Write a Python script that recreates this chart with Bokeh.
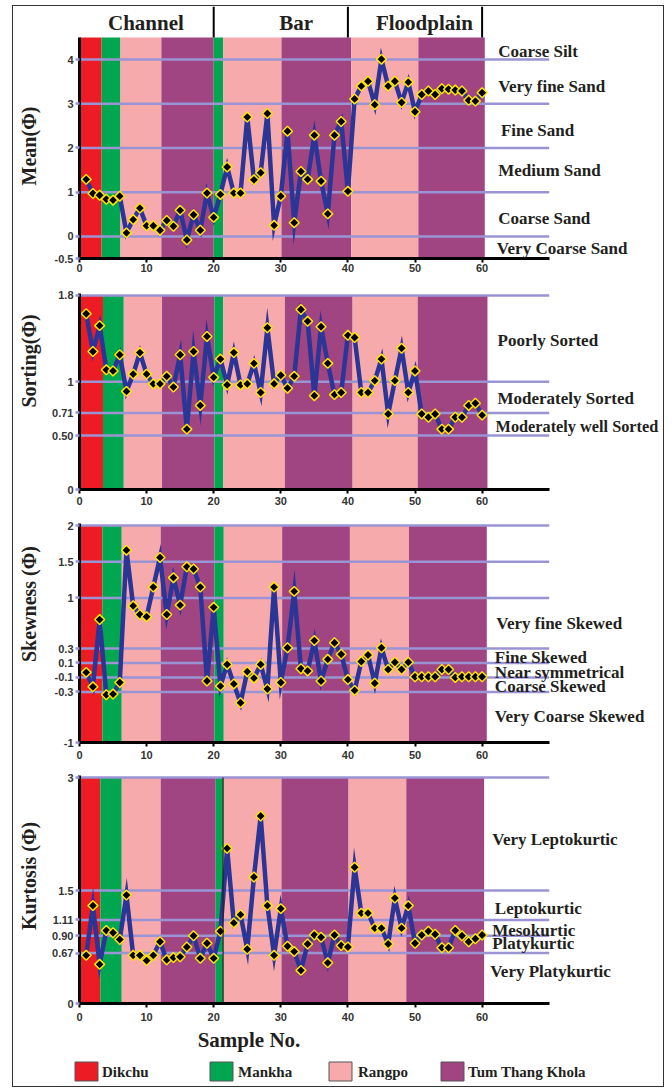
import math
from bokeh.plotting import figure
from bokeh.models import Range1d, Label, FixedTicker
from bokeh.layouts import column, row
from bokeh.embed import file_html
from bokeh.resources import INLINE
from bokeh.core.properties import value

# ---------------- data ----------------
samples = list(range(1, 61))

mean_phi = [1.29, 0.97, 0.93, 0.84, 0.82, 0.91, 0.08, 0.38, 0.64, 0.24,
            0.24, 0.14, 0.36, 0.23, 0.59, -0.08, 0.49, 0.14, 0.98, 0.43,
            0.95, 1.57, 0.98, 0.98, 2.70, 1.28, 1.44, 2.78, 0.25, 0.91,
            2.38, 0.31, 1.47, 1.29, 2.29, 1.25, 0.51, 2.29, 2.60, 1.02,
            3.11, 3.40, 3.51, 2.98, 4.01, 3.40, 3.51, 3.03, 3.49, 2.82,
            3.21, 3.29, 3.21, 3.34, 3.33, 3.31, 3.29, 3.08, 3.06, 3.25]

sorting_phi = [1.63, 1.28, 1.52, 1.11, 1.10, 1.25, 0.91, 1.07, 1.27, 1.07,
               0.98, 0.98, 1.05, 0.95, 1.25, 0.56, 1.28, 0.78, 1.42, 1.04,
               1.21, 0.97, 1.27, 0.97, 0.98, 1.17, 0.90, 1.50, 0.98, 1.06,
               0.94, 1.05, 1.67, 1.56, 0.87, 1.51, 1.17, 0.88, 0.90, 1.43,
               1.41, 0.90, 0.90, 1.01, 1.21, 0.70, 1.01, 1.31, 0.90, 1.10,
               0.70, 0.67, 0.70, 0.56, 0.56, 0.67, 0.67, 0.78, 0.80, 0.69]

skewness_phi = [-0.03, -0.23, 0.70, -0.34, -0.33, -0.17, 1.66, 0.89, 0.77, 0.74,
                1.15, 1.56, 0.77, 1.28, 0.90, 1.43, 1.40, 1.15, -0.15, 0.87,
                -0.22, 0.08, -0.19, -0.45, -0.02, -0.11, 0.08, -0.26, 1.15, -0.17,
                0.31, 1.09, 0.02, -0.01, 0.41, -0.15, 0.15, 0.38, 0.22, -0.13,
                -0.28, 0.12, 0.21, -0.18, 0.31, 0.01, 0.11, 0.01, 0.11, -0.09,
                -0.09, -0.09, -0.09, 0.01, 0.01, -0.10, -0.09, -0.09, -0.09, -0.09]

kurtosis_phi = [0.64, 1.30, 0.52, 0.97, 0.94, 0.85, 1.44, 0.64, 0.64, 0.57,
                0.64, 0.82, 0.58, 0.61, 0.62, 0.75, 0.90, 0.60, 0.80, 0.60,
                0.96, 2.06, 1.07, 1.18, 0.72, 1.68, 2.49, 1.30, 0.64, 1.26,
                0.76, 0.69, 0.44, 0.79, 0.91, 0.88, 0.54, 0.91, 0.77, 0.75,
                1.81, 1.20, 1.20, 1.00, 1.00, 0.79, 1.40, 1.00, 1.30, 0.80,
                0.91, 0.96, 0.92, 0.74, 0.74, 0.97, 0.90, 0.82, 0.86, 0.91]

rivers = ["Dikchu", "Mankha", "Rangpo", "Tum Thang Khola"]
river_colors = ["#ED1C24", "#00A650", "#F7AAAC", "#A04482"]

# river of each background band (left to right) and band edges per panel
band_river = [0, 1, 2, 3, 1, 2, 3, 2, 3]
mean_band_edges = [0, 3.3, 6.1, 12.2, 20.0, 21.4, 30.1, 40.5, 50.5, 60.4]
sorting_band_edges = [0, 3.5, 6.6, 12.3, 20.1, 21.4, 30.6, 40.7, 50.4, 60.8]
skew_band_edges = [0, 3.4, 6.3, 12.1, 20.1, 21.5, 30.2, 40.3, 49.1, 60.7]
kurt_band_edges = [0, 3.1, 6.3, 12.1, 20.3, 21.4, 30.1, 40.1, 48.7, 60.3]

environments = ["Channel", "Bar", "Floodplain"]
environment_x = [9.9, 32.3, 51.4]
environment_bounds = [20, 40, 60]

# class boundary lines, tick labels, class names
mean_levels = [4, 3, 2, 1, 0]
mean_ticks = [-0.5, 0, 1, 2, 3, 4]
mean_tick_labels = ["-0.5", "0", "1", "2", "3", "4"]
mean_classes = ["Coarse Silt", "Very fine Sand", "Fine Sand", "Medium Sand",
                "Coarse Sand", "Very Coarse Sand"]
mean_class_y = [4.19, 3.38, 2.40, 1.48, 0.41, -0.28]
mean_class_x = [62.4, 62.4, 62.8, 62.4, 62.4, 62.2]

sorting_levels = [1.8, 1, 0.71, 0.50]
sorting_ticks = [0, 0.50, 0.71, 1, 1.8]
sorting_tick_labels = ["0", "0.50", "0.71", "1", "1.8"]
sorting_classes = ["Poorly Sorted", "Moderately Sorted", "Moderately well Sorted"]
sorting_class_y = [1.38, 0.84, 0.58]
sorting_class_x = [62.3, 62.3, 62.0]
sorting_class_size = ["17px", "17px", "16.3px"]

skew_levels = [2, 1.5, 1, 0.3, 0.1, -0.1, -0.3]
skew_ticks = [-1, -0.3, -0.1, 0.1, 0.3, 1, 1.5, 2]
skew_tick_labels = ["-1", "-0.3", "-0.1", "0.1", "0.3", "1", "1.5", "2"]
skew_classes = ["Very fine Skewed", "Fine Skewed", "Near symmetrical",
                "Coarse Skewed", "Very Coarse Skewed"]
skew_class_y = [0.65, 0.18, -0.03, -0.22, -0.64]
skew_class_x = [62.1, 61.9, 61.9, 61.9, 61.9]

kurt_levels = [3, 1.5, 1.11, 0.90, 0.67]
kurt_ticks = [0, 0.67, 0.90, 1.11, 1.5, 3]
kurt_tick_labels = ["0", "0.67", "0.90", "1.11", "1.5", "3"]
kurt_classes = ["Very Leptokurtic", "Leptokurtic", "Mesokurtic", "Platykurtic",
                "Very Platykurtic"]
kurt_class_y = [2.18, 1.26, 0.97, 0.80, 0.42]
kurt_class_x = [61.5, 61.9, 61.5, 61.5, 61.2]

panel_titles = ["Mean(Φ)", "Sorting(Φ)", "Skewness (Φ)", "Kurtosis (Φ)"]

x_ticks = [0, 10, 20, 30, 40, 50, 60]

# ---------------- style / layout ----------------
W = 650              # content width inside the outer border
STRIP_W = 34         # left strip carrying the vertical panel titles
PANEL_W = W - STRIP_W
BORDER_LEFT = 32     # room for the y axis ticks
PX_PER_SAMPLE = 6.71
X_MAX = (PANEL_W - BORDER_LEFT) / PX_PER_SAMPLE
LINE_BLUE = "#2B3595"
LAVENDER = "#9A94D4"
TEXT = "#231F20"
SERIF = "Liberation Serif"
SANS = "Liberation Sans"


def make_panel(height, border_top, border_bottom, y0, y1, band_edges, band_top,
               levels, ticks, tick_labels, values, classes, class_x, class_y,
               class_size=None, axis_bounds=None, label_standoff=4):
    p = figure(width=PANEL_W, height=height, x_range=Range1d(0, X_MAX),
               y_range=Range1d(y0, y1), output_backend="svg",
               toolbar_location=None, min_border_left=BORDER_LEFT,
               min_border_right=0, min_border_top=border_top,
               min_border_bottom=border_bottom)
    p.outline_line_color = None
    p.grid.visible = False
    p.background_fill_color = "white"
    p.border_fill_color = "white"

    p.quad(left=band_edges[:-1], right=band_edges[1:], bottom=y0, top=band_top,
           fill_color=[river_colors[i] for i in band_river], line_color=None)
    p.segment(x0=[0] * len(levels), x1=[70] * len(levels), y0=levels, y1=levels,
              line_color=LAVENDER, line_width=2.5)
    p.line(samples, values, line_color=LINE_BLUE, line_width=4.5, line_join="miter")
    p.scatter(samples, values, marker="square", angle=math.pi / 4, size=7,
              fill_color="black", line_color="#FFE600", line_width=1.5)

    for ax in (p.xaxis, p.yaxis):
        ax.axis_line_color = "black"
        ax.axis_line_width = 3
        ax.minor_tick_line_color = None
        ax.major_label_text_font = SANS
        ax.major_label_text_font_style = "bold"
        ax.major_label_text_font_size = "11px"
        ax.major_label_text_color = "#333333"
    p.xaxis.bounds = (0, 70)
    p.xaxis.ticker = FixedTicker(ticks=x_ticks)
    p.xaxis.major_tick_out = 4
    p.xaxis.major_tick_in = 0
    p.xaxis.major_tick_line_color = "black"
    p.xaxis.major_tick_line_width = 2
    p.xaxis.major_label_standoff = label_standoff
    p.yaxis.ticker = FixedTicker(ticks=ticks)
    p.yaxis.major_label_overrides = {t: l for t, l in zip(ticks, tick_labels)}
    p.yaxis.major_tick_out = 4
    p.yaxis.major_tick_in = 0
    p.yaxis.major_tick_line_color = LAVENDER
    p.yaxis.major_tick_line_width = 2.5
    p.yaxis.major_label_standoff = 2
    if axis_bounds is not None:
        p.yaxis.bounds = axis_bounds

    if class_size is None:
        class_size = ["17px"] * len(classes)
    for name, cx, cy, fs in zip(classes, class_x, class_y, class_size):
        p.add_layout(Label(x=cx, y=cy, text=name, text_font=SERIF,
                           text_font_style="bold", text_font_size=fs,
                           text_baseline="middle", text_align="left",
                           text_color=TEXT))
    return p


p1 = make_panel(273, 0, 21, -0.5, 5.201, mean_band_edges, 4.5, mean_levels,
                mean_ticks, mean_tick_labels, mean_phi, mean_classes,
                mean_class_x, mean_class_y, axis_bounds=(-0.5, 4.5),
                label_standoff=1)
# depositional environment header
p1.segment(x0=environment_bounds, x1=environment_bounds,
           y0=[4.5] * 3, y1=[5.201] * 3, line_color="black", line_width=2)
for name, ex in zip(environments, environment_x):
    p1.add_layout(Label(x=ex, y=4.83, text=name, text_font=SERIF,
                        text_font_style="bold", text_font_size="21px",
                        text_align="center", text_baseline="middle",
                        text_color=TEXT))

p2 = make_panel(231, 14, 21, 0, 1.818, sorting_band_edges, 1.8, sorting_levels,
                sorting_ticks, sorting_tick_labels, sorting_phi, sorting_classes,
                sorting_class_x, sorting_class_y, class_size=sorting_class_size,
                label_standoff=3)

p3 = make_panel(254, 13, 22, -1, 2.029, skew_band_edges, 2, skew_levels,
                skew_ticks, skew_tick_labels, skewness_phi, skew_classes,
                skew_class_x, skew_class_y, label_standoff=4)

p4 = make_panel(261, 11, 22, 0, 3.028, kurt_band_edges, 3, kurt_levels,
                kurt_ticks, kurt_tick_labels, kurtosis_phi, kurt_classes,
                kurt_class_x, kurt_class_y, label_standoff=5)
# thin dark edge to the right of the second Mankha band in the kurtosis panel
p4.segment(x0=[kurt_band_edges[5]], x1=[kurt_band_edges[5]], y0=[0], y1=[3],
           line_color="#222222", line_width=1.2)

panels = [p1, p2, p3, p4]
stack_h = sum(p.height for p in panels)

# left strip with the vertical panel titles (pixel coordinates, y downwards)
title_centre_y = [139.5, 354.5, 597.5, 869.5]
strip = figure(width=STRIP_W, height=stack_h, x_range=Range1d(0, STRIP_W),
               y_range=Range1d(stack_h, 0), output_backend="svg",
               toolbar_location=None, min_border=0)
strip.axis.visible = False
strip.grid.visible = False
strip.outline_line_color = None
strip.text(x=[15.5] * 4, y=title_centre_y, text=panel_titles, angle=math.pi / 2,
           text_font=value(SERIF), text_font_style="bold",
           text_font_size="20px", text_align="center", text_baseline="middle",
           text_color=TEXT)

# bottom strip: x-axis title and legend
BOT_H = 61
legend_box_left = [61.5, 196.5, 315.5, 427.5]
legend_text_left = [88.5, 224.5, 344.5, 454.5]
p5 = figure(width=W, height=BOT_H, x_range=Range1d(0, W),
            y_range=Range1d(BOT_H, 0), output_backend="svg",
            toolbar_location=None, min_border=0)
p5.axis.visible = False
p5.grid.visible = False
p5.outline_line_color = None
p5.text(x=[235.5], y=[14.5], text=["Sample No."], text_font=value(SERIF),
        text_font_style="bold", text_font_size="21px", text_align="center",
        text_baseline="middle", text_color=TEXT)
p5.quad(left=legend_box_left, right=[v + 23 for v in legend_box_left],
        top=[36.5] * 4, bottom=[55.5] * 4, fill_color=river_colors,
        line_color="#555555", line_width=1)
p5.text(x=legend_text_left, y=[46] * 4, text=rivers, text_font=value(SERIF),
        text_font_style="bold", text_font_size="15px", text_align="left",
        text_baseline="middle", text_color=TEXT)

layout = column(row(strip, column(*panels, spacing=0), spacing=0), p5,
                spacing=0,
                styles={"margin": "5px 0px 0px 12px",
                        "border": "1.5px solid #333333"})

open("out.html", "w").write(file_html(layout, INLINE))
